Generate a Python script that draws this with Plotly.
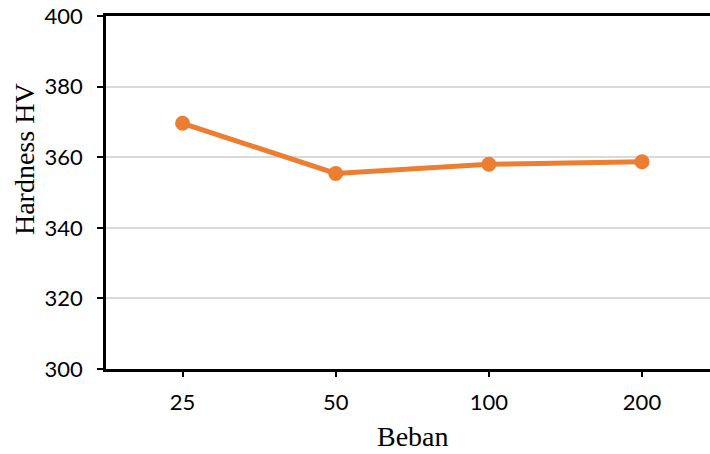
import plotly.graph_objects as go

categories = ["25", "50", "100", "200"]
hardness = [369.6, 355.4, 358.0, 358.7]
y_ticks = [300, 320, 340, 360, 380, 400]

fig = go.Figure()
fig.add_trace(go.Scatter(
    x=categories, y=hardness, mode="lines+markers",
    line=dict(color="#ED7D31", width=5),
    marker=dict(color="#ED7D31", size=15),
    showlegend=False,
))

fig.update_layout(
    width=710, height=454,
    margin=dict(l=106, r=0, t=16, b=85),
    plot_bgcolor="white", paper_bgcolor="white",
    font=dict(family="Lato, Open Sans, sans-serif", size=22, color="black"),
)
fig.update_xaxes(
    type="category", range=[-0.5, 3.444],
    showline=True, linecolor="black", linewidth=2.5, mirror=True,
    ticks="outside", ticklen=5, tickwidth=2, tickcolor="black",
    ticklabelstandoff=7,
    showgrid=False,
)
fig.update_yaxes(
    range=[300, 400], tickvals=y_ticks,
    showline=True, linecolor="black", linewidth=2.5,
    ticks="outside", ticklen=6, tickwidth=1.5, tickcolor="black",
    ticklabelstandoff=10,
    showgrid=True, gridcolor="#d9d9d9", gridwidth=1.5,
    zeroline=False,
)
fig.add_annotation(
    text="Beban", xref="paper", yref="paper", x=0.508, y=-0.191,
    xanchor="center", yanchor="middle", showarrow=False,
    font=dict(family="Liberation Serif", size=28, color="black"),
)
fig.add_annotation(
    text="Hardness HV", xref="paper", yref="paper", x=-0.134, y=0.595,
    xanchor="center", yanchor="middle", textangle=-90, showarrow=False,
    font=dict(family="Liberation Serif", size=28, color="black"),
)

fig.write_html("out.html")
